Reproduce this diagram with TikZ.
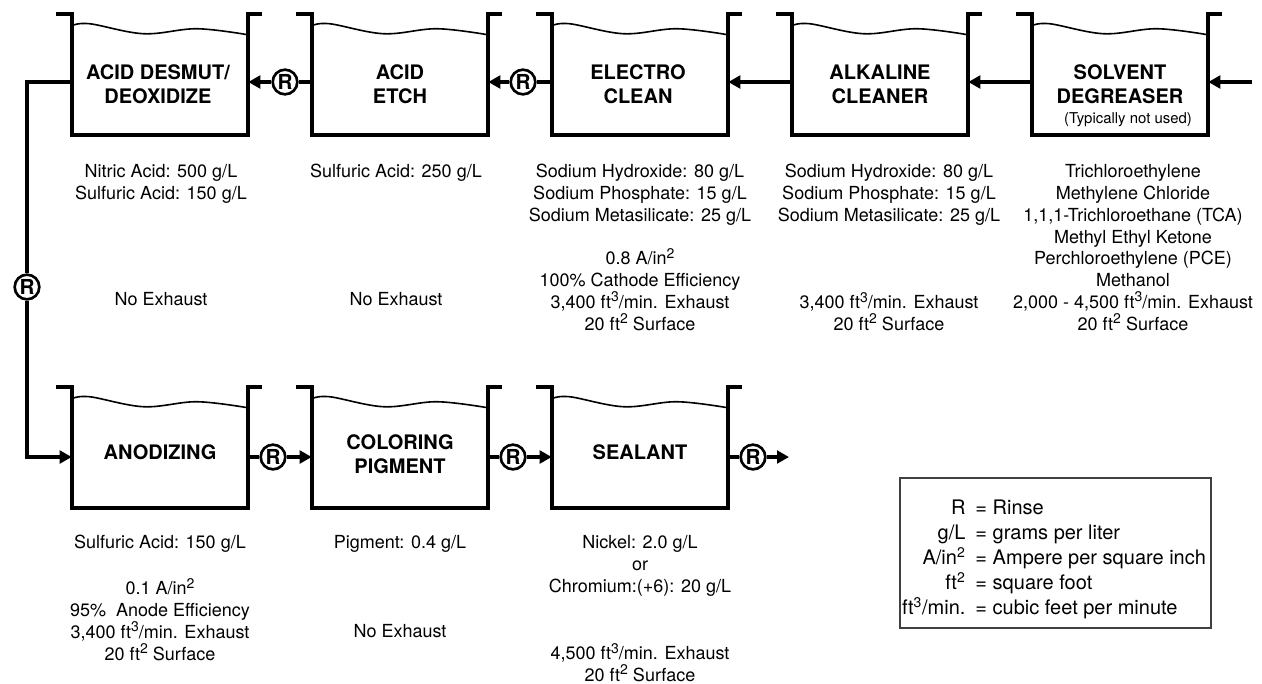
\documentclass[tikz,border=0pt]{standalone}
\usepackage{fontspec}
\setmainfont{TeX Gyre Heros}
\usetikzlibrary{arrows.meta,calc}
\newcommand\fl{\rule{0pt}{14pt}}
\newcommand\bigsup[1]{\raisebox{5pt}{\fontsize{10.5}{10.5}\selectfont #1}}
\newcommand\tankdraw[1]{%
  \draw[wall] ([xshift=-12pt]#1.north west) -- (#1.north west) -- (#1.south west) -- (#1.south east) -- (#1.north east) -- ([xshift=10.5pt]#1.north east);
  \begin{scope}[shift={(#1.north west)}]
    \draw[wave] plot[smooth,tension=0.6] coordinates {(0,12) (18,10) (72,20) (125,15) (176,21)};
  \end{scope}}
\begin{document}
\begin{tikzpicture}[x=0.75pt,y=-0.75pt,
  wall/.style={line width=2.7pt,line join=miter},
  wave/.style={line width=1.2pt},
  conn/.style={line width=2.4pt,line join=miter},
  arr/.style={conn,-{Triangle[length=9pt,width=9.5pt]}},
  rin/.style={circle,draw,line width=2pt,minimum size=18.5pt,inner sep=0pt,font=\fontsize{15.5}{15.5}\selectfont\bfseries},
  tank/.style={rectangle,minimum width=132pt,minimum height=90.75pt,inner sep=0pt},
  title/.style={align=center,inner sep=0pt,font=\fontsize{15}{18}\selectfont\bfseries},
  info/.style={anchor=north,align=center,inner sep=0pt,font=\fontsize{13.5}{16.35}\selectfont}]
\fill[white] (0,0) rectangle (1262,683);
\useasboundingbox (0,0) rectangle (1262,683);

% tanks
\node[tank] (desmut) at (160,74.5) {};
\node[tank] (etch) at (400,74.5) {};
\node[tank] (electro) at (640,74.5) {};
\node[tank] (alkaline) at (880,74.5) {};
\node[tank] (solvent) at (1120,74.5) {};
\node[tank] (anod) at (160,447.5) {};
\node[tank] (color) at (400,447.5) {};
\node[tank] (seal) at (640,447.5) {};
\foreach \t in {desmut,etch,electro,alkaline,solvent,anod,color,seal}{\tankdraw{\t}}

% titles
\node[title] (desmutT) at (158,84) {ACID DESMUT/\\DEOXIDIZE};
\node[title] (etchT) at (400,84) {ACID\\ETCH};
\node[title] (electroT) at (638,84) {ELECTRO\\CLEAN};
\node[title] (alkT) at (880,84) {ALKALINE\\CLEANER};
\node[title] (solvT) at (1120,84.5) {SOLVENT\\DEGREASER};
\node[inner sep=0pt,font=\fontsize{11.2}{13}\selectfont] (solvN) at (1128,120) {(Typically not used)};
\node[title] (anodT) at (160,452) {ANODIZING};
\node[title] (colT) at (400,454.5) {COLORING\\PIGMENT};
\node[title] (sealT) at (640,452) {SEALANT};

% rinses
\node[rin] (r1) at (285,82) {R};
\node[rin] (r2) at (523,82) {R};
\node[rin] (rv) at (27,287) {R};
\node[rin] (r3) at (273,457) {R};
\node[rin] (r4) at (513,457) {R};
\node[rin] (r5) at (753,457) {R};
\coordinate (in) at (1252,82);
\coordinate (out) at (789,457);

% connectors
\draw[arr] (in) -- (solvent.east |- in);
\draw[arr] (solvent.west |- in) -- (alkaline.east |- in);
\draw[arr] (alkaline.west |- in) -- (electro.east |- in);
\draw[conn] (electro.west |- r2) -- (r2);
\draw[arr] (r2) -- (etch.east |- r2);
\draw[conn] (etch.west |- r1) -- (r1);
\draw[arr] (r1) -- (desmut.east |- r1);
\draw[conn] (desmut.west |- in) -| (rv);
\draw[arr] (rv) |- (anod.west |- r3);
\draw[conn] (anod.east |- r3) -- (r3);
\draw[arr] (r3) -- (color.west |- r3);
\draw[conn] (color.east |- r4) -- (r4);
\draw[arr] (r4) -- (seal.west |- r4);
\draw[conn] (seal.east |- r5) -- (r5);
\draw[arr] (r5) -- (out);

% information
\node[info] (desmutI) at (161,158.8) {\fl Nitric Acid: 500 g/L\\Sulfuric Acid: 150 g/L};
\node[info] (desmutE) at (161,286.8) {\fl No Exhaust};
\node[info] (etchI) at (396,158.8) {\fl Sulfuric Acid: 250 g/L};
\node[info] (etchE) at (396,286.8) {\fl No Exhaust};
\node[info] (electroI) at (640,158.8) {\fl Sodium Hydroxide: 80 g/L\\Sodium Phosphate: 15 g/L\\Sodium Metasilicate: 25 g/L};
\node[info] (electroE) at (640,245.8) {\fl 0.8 A/in\bigsup{2}\\100\% Cathode Efficiency\\3,400 ft\bigsup{3}/min. Exhaust\\20 ft\bigsup{2} Surface};
\node[info] (alkI) at (889,158.8) {\fl Sodium Hydroxide: 80 g/L\\Sodium Phosphate: 15 g/L\\Sodium Metasilicate: 25 g/L};
\node[info] (alkE) at (889,289.8) {\fl 3,400 ft\bigsup{3}/min. Exhaust\\20 ft\bigsup{2} Surface};
\node[info] (solvI) at (1133,158.8) {\fl Trichloroethylene\\Methylene Chloride\\1,1,1-Trichloroethane (TCA)\\Methyl Ethyl Ketone\\Perchloroethylene (PCE)\\Methanol\\2,000 - 4,500 ft\bigsup{3}/min. Exhaust\\20 ft\bigsup{2} Surface};
\node[info] (anodI) at (160,529.8) {\fl Sulfuric Acid: 150 g/L};
\node[info] (anodE) at (160,575.8) {\fl 0.1 A/in\bigsup{2}\\95\%\ \ Anode Efficiency\\3,400 ft\bigsup{3}/min. Exhaust\\20 ft\bigsup{2} Surface};
\node[info] (colI) at (400,529.8) {\fl Pigment: 0.4 g/L};
\node[info] (colE) at (400,618.8) {\fl No Exhaust};
\node[info] (sealI) at (640,529.8) {\fl Nickel: 2.0 g/L\\or\\Chromium:(+6): 20 g/L};
\node[info] (sealE) at (640,640.8) {\fl 4,500 ft\bigsup{3}/min. Exhaust\\20 ft\bigsup{2} Surface};

% legend
\node[draw=black!75,line width=0.8pt,minimum width=233.25pt,minimum height=112.5pt,inner sep=0pt] (legend) at (1055.5,553) {};
\node[inner sep=0pt,font=\fontsize{15}{18.75}\selectfont] (legendT) at (1054,559) {\begin{tabular}{@{}r@{\hspace{7.5pt}}l@{}}
R & = Rinse\\
g/L & = grams per liter\\
A/in\textsuperscript{2} & = Ampere per square inch\\
ft\textsuperscript{2} & = square foot\\
ft\textsuperscript{3}/min. & = cubic feet per minute
\end{tabular}};
\end{tikzpicture}
\end{document}
